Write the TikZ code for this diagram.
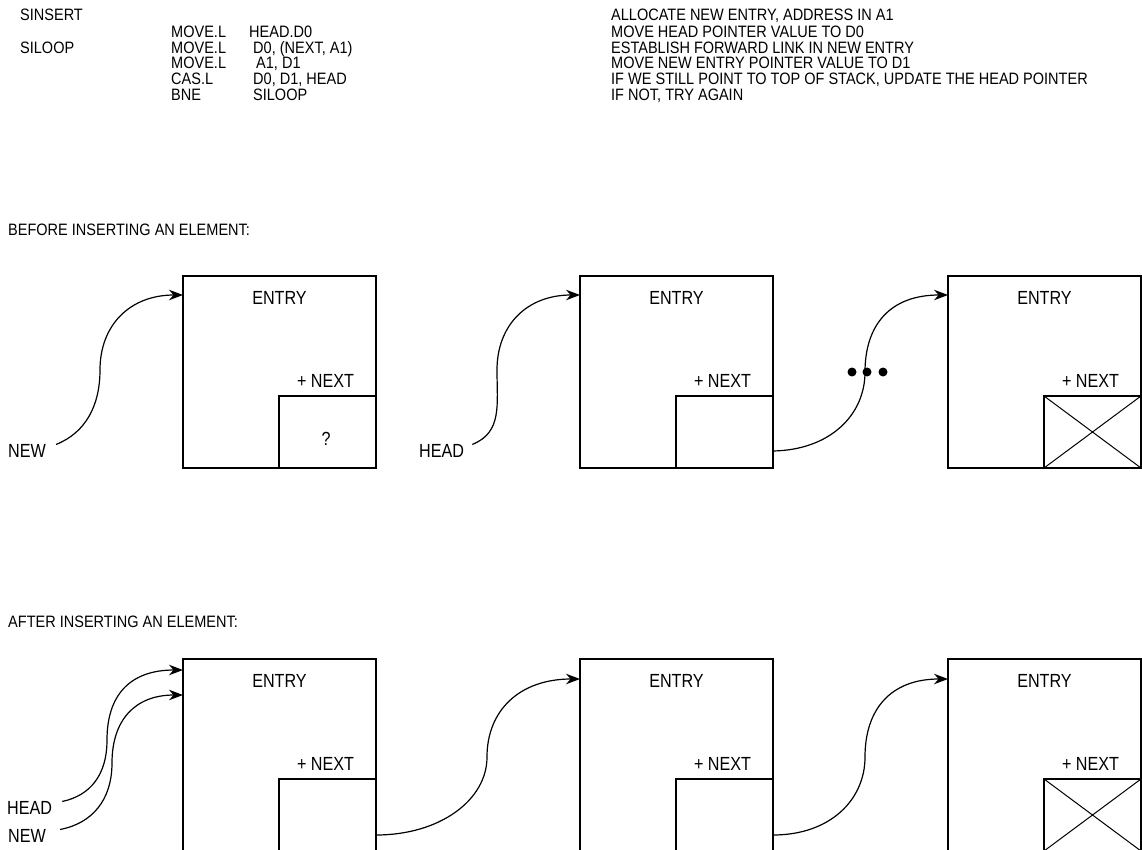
\documentclass[tikz,border=0pt]{standalone}
\usepackage{fontspec}
\setmainfont{Liberation Sans}[FakeStretch=0.85]
\newfontfamily\codefont{Liberation Sans}[FakeStretch=0.88]
\usetikzlibrary{arrows.meta}
\begin{document}
\begin{tikzpicture}[x=1pt,y=-1pt,
  txt/.style={inner sep=0pt,anchor=base west,font=\codefont\fontsize{16.5}{18}\selectfont},
  lbl/.style={inner sep=0pt,anchor=base west,font=\fontsize{19}{21}\selectfont},
  ctxt/.style={inner sep=0pt,anchor=base,font=\fontsize{19}{21}\selectfont},
  box/.style={draw,line width=2.6pt},
  link/.style={line width=1.2pt,-{Stealth[length=14pt,width=10.5pt]}}]
\useasboundingbox (0,0) rectangle (1142,850);
% code
\foreach \y/\a/\b/\c/\d/\cx in {
  21/SINSERT///ALLOCATE NEW ENTRY{,} ADDRESS IN A1/249,
  38//MOVE.L/HEAD.D0/MOVE HEAD POINTER VALUE TO D0/249,
  54/SILOOP/MOVE.L/D0{,} (NEXT{,} A1)/ESTABLISH FORWARD LINK IN NEW ENTRY/253,
  69//MOVE.L/A1{,} D1/MOVE NEW ENTRY POINTER VALUE TO D1/256,
  85//CAS.L/D0{,} D1{,} HEAD/IF WE STILL POINT TO TOP OF STACK{,} UPDATE THE HEAD POINTER/253,
  101//BNE/SILOOP/IF NOT{,} TRY AGAIN/253}{
  \node[txt] at (20,\y) {\a};
  \node[txt] at (171,\y) {\b};
  \node[txt] at (\cx,\y) {\c};
  \node[txt] at (611,\y) {\d};
}
\node[txt] (before) at (8,236) {BEFORE INSERTING AN ELEMENT:};
\node[txt] (after) at (8,627) {AFTER INSERTING AN ELEMENT:};
% top boxes
\foreach \n/\x in {1/183,2/580,3/948}{
  \draw[box] (\x,276) rectangle ++(193,192);
  \coordinate (t\n) at (\x,295);
  \coordinate (tn\n) at (\x+193,451);
  \draw[box] (\x+96,396) rectangle (\x+193,468);
  \node[ctxt] at (\x+96.5,304) {ENTRY};
  \node[ctxt] at (\x+142.5,387) {+ NEXT};
}
\node[ctxt] at (326,445) {?};
\draw[line width=1pt] (1044,396) -- (1141,468) (1044,468) -- (1141,396);
\node[lbl] (new1) at (8,457) {NEW};
\node[lbl] (head1) at (419,457) {HEAD};
\draw[link] (new1.east)++(10,-6) .. controls +(30,-12) and (100,405) .. (100,370) .. controls (100,325) and (130,295) .. (t1);
\draw[link] (head1.east)++(8,-6) .. controls +(30,-12) and (497,405) .. (497,370) .. controls (497,325) and (527,295) .. (t2);
\draw[link] (tn2) .. controls (830,450) and (865,415) .. (865,372) .. controls (865,325) and (890,295) .. (t3);
\foreach \x in {852,867,883} \fill (\x,372) circle (4.5);
% bottom boxes
\foreach \n/\x in {1/183,2/580,3/948}{
  \draw[box] (\x,659) rectangle ++(193,200);
  \coordinate (b\n) at (\x,679);
  \coordinate (bn\n) at (\x+193,835);
  \draw[box] (\x+96,779) rectangle (\x+193,860);
  \node[ctxt] at (\x+96.5,687) {ENTRY};
  \node[ctxt] at (\x+142.5,770) {+ NEXT};
}
\coordinate (bh) at (183,670);
\coordinate (bw) at (183,695);
\draw[line width=1pt] (1044,779) -- (1141,851) (1044,851) -- (1141,779);
\node[lbl] (head2) at (7,814) {HEAD};
\node[lbl] (new2) at (8,842) {NEW};
\draw[link] (head2.east)++(10,-6) .. controls +(28,-6) and (107,775) .. (107,740) .. controls (107,695) and (130,670) .. (bh);
\draw[link] (new2.east)++(14,-6) .. controls +(32,-6) and (112,800) .. (112,763) .. controls (112,720) and (135,695) .. (bw);
\draw[link] (bn1) .. controls (440,835) and (487,800) .. (487,757) .. controls (487,710) and (520,679) .. (b2);
\draw[link] (bn2) .. controls (830,835) and (865,800) .. (865,757) .. controls (865,710) and (890,679) .. (b3);
\end{tikzpicture}
\end{document}
